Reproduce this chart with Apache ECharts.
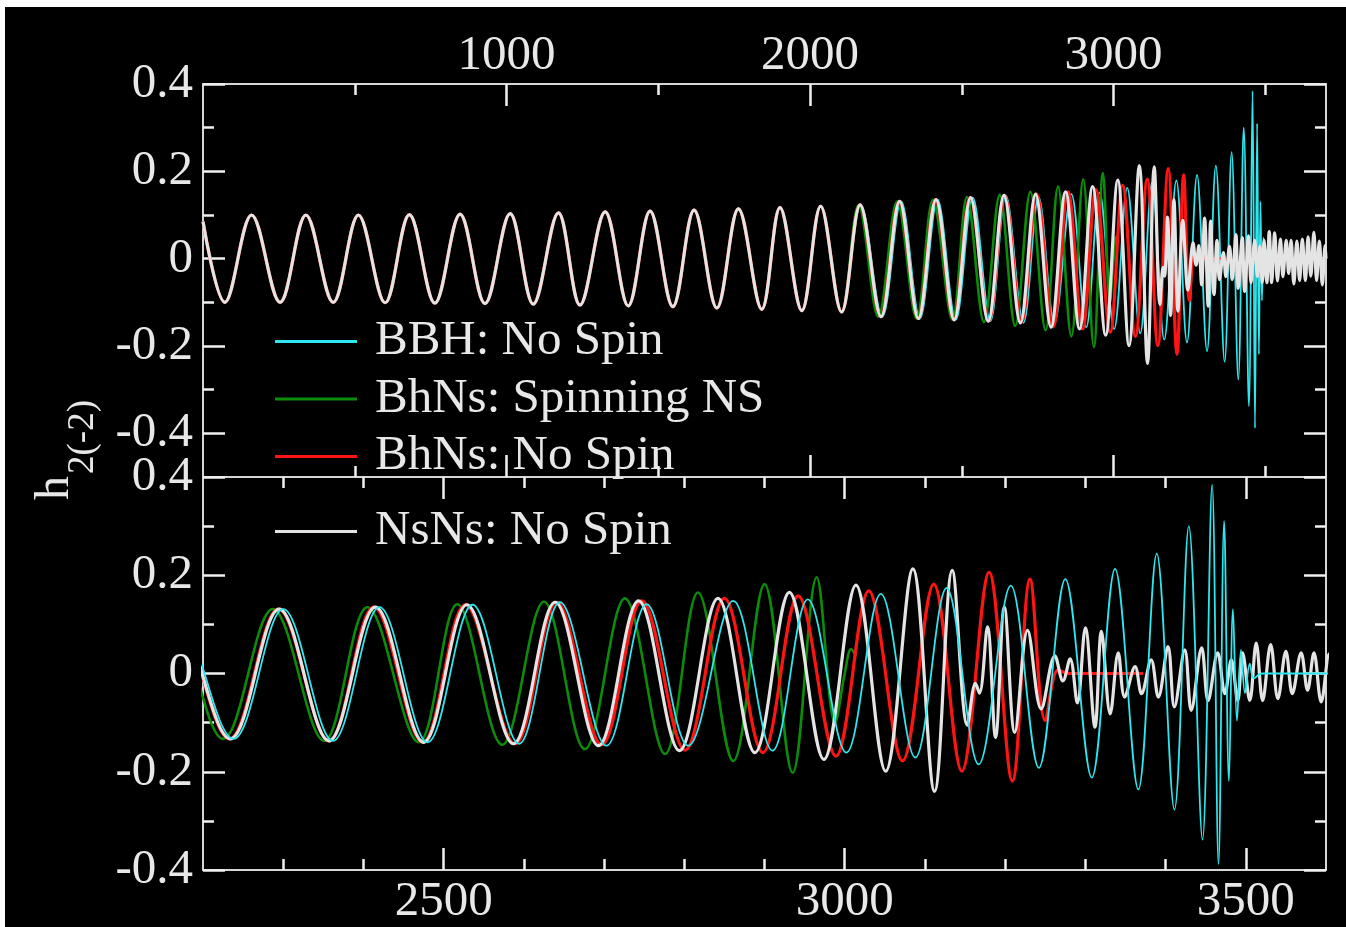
<!DOCTYPE html>
<html><head><meta charset="utf-8">
<script src="https://cdn.jsdelivr.net/npm/echarts@6/dist/echarts.min.js"></script>
<style>
html,body{margin:0;padding:0;background:#fff;width:1346px;height:927px;overflow:hidden}
#chart{position:absolute;left:5px;top:7px;width:1341px;height:920px;background:#000}
</style></head><body><div id="chart"></div>
<script>
// ---- names ----
const seriesNames = ['BBH: No Spin', 'BhNs: Spinning NS', 'BhNs: No Spin', 'NsNs: No Spin'];
const seriesColors = ['#2ee6ee', '#0b8c0b', '#ff1414', '#e4e4e4'];

// ---- tick values / labels ----
const topXMajor = [1000, 2000, 3000];
const topXMinor = [500, 1500, 2500, 3500];
const botXMajor = [2500, 3000, 3500];
const botXMinor = [2300, 2400, 2600, 2700, 2800, 2900, 3100, 3200, 3300, 3400];
const yMajor = [-0.4, -0.2, 0, 0.2, 0.4];
const yMinor = [-0.3, -0.1, 0.1, 0.3];

// ---- inspiral common to all runs (extrema) ----
const inspiralEarly = [
  [0, 0.085], [72, -0.100], [160, 0.100], [254, -0.100], [339, 0.100], [429, -0.100],
  [512, 0.100], [600, -0.101], [680, 0.101], [764, -0.102], [847, 0.102], [929, -0.103],
  [1012, 0.103], [1088, -0.104], [1171, 0.105], [1242, -0.106], [1325, 0.107], [1401, -0.108],
  [1473, 0.109], [1548, -0.110], [1618, 0.111], [1693, -0.113], [1764, 0.114], [1841, -0.116],
  [1901, 0.117], [1973, -0.119], [2035, 0.120], [2104, -0.122]
];

// ---- late parts (extrema) ----
const bbhLate = [
  [2167, 0.123], [2238, -0.133], [2300, 0.131], [2362, -0.137], [2420, 0.135], [2480, -0.140],
  [2536, 0.140], [2594, -0.143], [2645, 0.145], [2703, -0.147], [2753, 0.141], [2805, -0.147],
  [2861, 0.148], [2910, -0.157], [2954, 0.151], [3002, -0.161], [3045, 0.162], [3088, -0.171],
  [3127, 0.174], [3167, -0.185], [3207, 0.179], [3242, -0.192], [3275, 0.192], [3308, -0.212],
  [3337, 0.213], [3366, -0.236], [3389, 0.244], [3411, -0.277], [3429, 0.300], [3446, -0.338],
  [3458, 0.384], [3466, -0.388], [3473, 0.310], [3479, -0.219], [3484, 0.131], [3489, -0.096],
  [3494, 0.048], [3499, -0.040], [3505, 0.020], [3510, -0.010], [3520, 0.0], [3700, 0.0]
];
const bhnsSpinLate = [
  [2160, 0.123], [2225, -0.133], [2287, 0.131], [2351, -0.137], [2405, 0.135], [2469, -0.140],
  [2517, 0.141], [2573, -0.145], [2625, 0.146], [2676, -0.154], [2726, 0.153], [2776, -0.164],
  [2817, 0.165], [2861, -0.178], [2900, 0.182], [2935, -0.202], [2965, 0.196], [2988, -0.100],
  [3000, 0.0], [3008, 0.050], [3014, 0.035]
];
const bhnsLate = [
  [2165, 0.123], [2233, -0.133], [2294, 0.131], [2357, -0.137], [2413, 0.135], [2474, -0.140],
  [2527, 0.140], [2589, -0.143], [2641, 0.145], [2697, -0.145], [2747, 0.148], [2801, -0.156],
  [2850, 0.153], [2898, -0.161], [2942, 0.158], [2989, -0.168], [3030, 0.168], [3072, -0.178],
  [3111, 0.182], [3146, -0.199], [3180, 0.206], [3209, -0.219], [3231, 0.192], [3250, -0.096],
  [3266, 0.007], [3280, 0.0], [3372, 0.0]
];
const nsnsLate = [
  [2165, 0.123], [2234, -0.133], [2295, 0.131], [2357, -0.137], [2415, 0.135], [2475, -0.140],
  [2529, 0.140], [2587, -0.143], [2639, 0.145], [2693, -0.147], [2743, 0.148], [2794, -0.157],
  [2842, 0.153], [2888, -0.161], [2931, 0.165], [2974, -0.175], [3014, 0.180], [3051, -0.199],
  [3085, 0.213], [3112, -0.240], [3134, 0.210], [3153, -0.105], [3163, -0.020], [3168, -0.040],
  [3178, 0.095], [3188, -0.130], [3199, 0.135], [3212, -0.120], [3228, 0.088], [3245, -0.072],
  [3262, 0.036], [3272, -0.015], [3281, 0.030], [3290, -0.060], [3300, 0.093], [3312, -0.109],
  [3320, 0.086], [3331, -0.082], [3341, 0.042], [3349, -0.048], [3362, 0.014], [3370, -0.041],
  [3382, 0.028], [3391, -0.048], [3403, 0.055], [3411, -0.068], [3424, 0.048], [3432, -0.075],
  [3445, 0.052], [3453, -0.055], [3465, 0.042], [3474, -0.041], [3482, 0.028], [3490, -0.055],
  [3496, 0.042], [3505, -0.055], [3513, 0.062], [3521, -0.055], [3531, 0.059], [3540, -0.051],
  [3550, 0.045], [3558, -0.041], [3569, 0.042], [3577, -0.034], [3585, 0.042], [3594, -0.058],
  [3604, 0.040], [3613, -0.050], [3622, 0.045], [3632, -0.050], [3641, 0.050], [3650, -0.040],
  [3660, 0.060], [3669, -0.050], [3678, 0.040], [3688, -0.060], [3697, 0.030], [3700, 0.0]
];

const seriesData = [
  inspiralEarly.concat(bbhLate),
  inspiralEarly.concat(bhnsSpinLate),
  inspiralEarly.concat(bhnsLate),
  inspiralEarly.concat(nsnsLate)
];
const lineWidths = [1.8, 2.6, 3.2, 3.2];

// ---- styling helpers ----
const FONT = '"Liberation Serif", "Times New Roman", serif';
const TXT = '#e8e8e8';
const FS = 49;
const axisLineStyle = { color: '#d6d6d6', width: 2 };
const tickStyle = { color: '#f0f0f0', width: 2.5 };

function mkAxis(gridIndex, position, min, max, tickVals, len, showLine, labelVals, margin, fmt) {
  return {
    type: 'value', gridIndex: gridIndex, position: position, min: min, max: max,
    splitLine: { show: false },
    axisLine: { show: showLine, onZero: false, lineStyle: axisLineStyle },
    axisTick: { show: true, inside: true, length: len, customValues: tickVals, lineStyle: tickStyle },
    axisLabel: labelVals ? {
      show: true, customValues: labelVals, margin: margin, color: TXT,
      fontFamily: FONT, fontSize: FS, formatter: fmt
    } : { show: false }
  };
}
const fmtX = v => String(v);
const fmtY = v => (Math.abs(v) < 1e-9 ? '0' : v.toFixed(1));

const xAxes = [
  mkAxis(0, 'bottom', 0, 3700, topXMajor, 22, true, null),
  mkAxis(0, 'bottom', 0, 3700, topXMinor, 11, false, null),
  mkAxis(0, 'top', 0, 3700, topXMajor, 22, true, topXMajor, 3, fmtX),
  mkAxis(0, 'top', 0, 3700, topXMinor, 11, false, null),
  mkAxis(1, 'bottom', 2200, 3600, botXMajor, 22, true, botXMajor, 8, fmtX),
  mkAxis(1, 'bottom', 2200, 3600, botXMinor, 11, false, null),
  mkAxis(1, 'top', 2200, 3600, botXMajor, 22, true, null),
  mkAxis(1, 'top', 2200, 3600, botXMinor, 11, false, null)
];
const yAxes = [
  mkAxis(0, 'left', -0.5, 0.4, yMajor, 22, true, yMajor, 10, fmtY),
  mkAxis(0, 'left', -0.5, 0.4, yMinor, 11, false, null),
  mkAxis(0, 'right', -0.5, 0.4, yMajor, 22, true, null),
  mkAxis(0, 'right', -0.5, 0.4, yMinor, 11, false, null),
  mkAxis(1, 'left', -0.4, 0.4, yMajor, 22, true, yMajor, 10, fmtY),
  mkAxis(1, 'left', -0.4, 0.4, yMinor, 11, false, null),
  mkAxis(1, 'right', -0.4, 0.4, yMajor, 22, true, null),
  mkAxis(1, 'right', -0.4, 0.4, yMinor, 11, false, null)
];

function mkSeries(i, xi, yi, z) {
  return {
    type: 'line', name: seriesNames[i], xAxisIndex: xi, yAxisIndex: yi,
    data: seriesData[i], smooth: 0.36, showSymbol: false, symbol: 'none',
    clip: true, z: z, color: seriesColors[i],
    itemStyle: { color: seriesColors[i] },
    lineStyle: { color: seriesColors[i], width: lineWidths[i] },
    emphasis: { disabled: true }, silent: true
  };
}
const topOrder = [0, 1, 2, 3];
const botOrder = [1, 2, 3, 0];
const series = [];
topOrder.forEach((i, k) => series.push(mkSeries(i, 0, 0, 2 + k)));
botOrder.forEach((i, k) => series.push(mkSeries(i, 4, 4, 2 + k)));

const legendCommon = {
  orient: 'vertical', left: 265, icon: 'rect', itemWidth: 82, itemHeight: 3,
  itemGap: 8.5, selectedMode: false,
  textStyle: { color: TXT, fontFamily: FONT, fontSize: FS, padding: [0, 0, 0, 13] }
};

const option = {
  backgroundColor: '#000',
  animation: false,
  grid: [
    { left: 198, top: 77, width: 1123, height: 393 },
    { left: 198, top: 470, width: 1123, height: 393 }
  ],
  xAxis: xAxes,
  yAxis: yAxes,
  legend: [
    Object.assign({}, legendCommon, { top: 305, data: seriesNames.slice(0, 3) }),
    Object.assign({}, legendCommon, { top: 495, data: seriesNames.slice(3) })
  ],
  graphic: [
    { type: 'text', x: 50, y: 481, rotation: Math.PI / 2, z: 100,
      style: { text: 'h', fill: TXT, font: '48px "Liberation Serif"', align: 'center', verticalAlign: 'middle' } },
    { type: 'text', x: 78, y: 430, rotation: Math.PI / 2, z: 100,
      style: { text: '2(-2)', fill: TXT, font: '37px "Liberation Serif"', align: 'center', verticalAlign: 'middle' } }
  ],
  series: series
};
const chart = echarts.init(document.getElementById('chart'), null, { renderer: 'canvas' });
chart.setOption(option);
</script></body></html>
